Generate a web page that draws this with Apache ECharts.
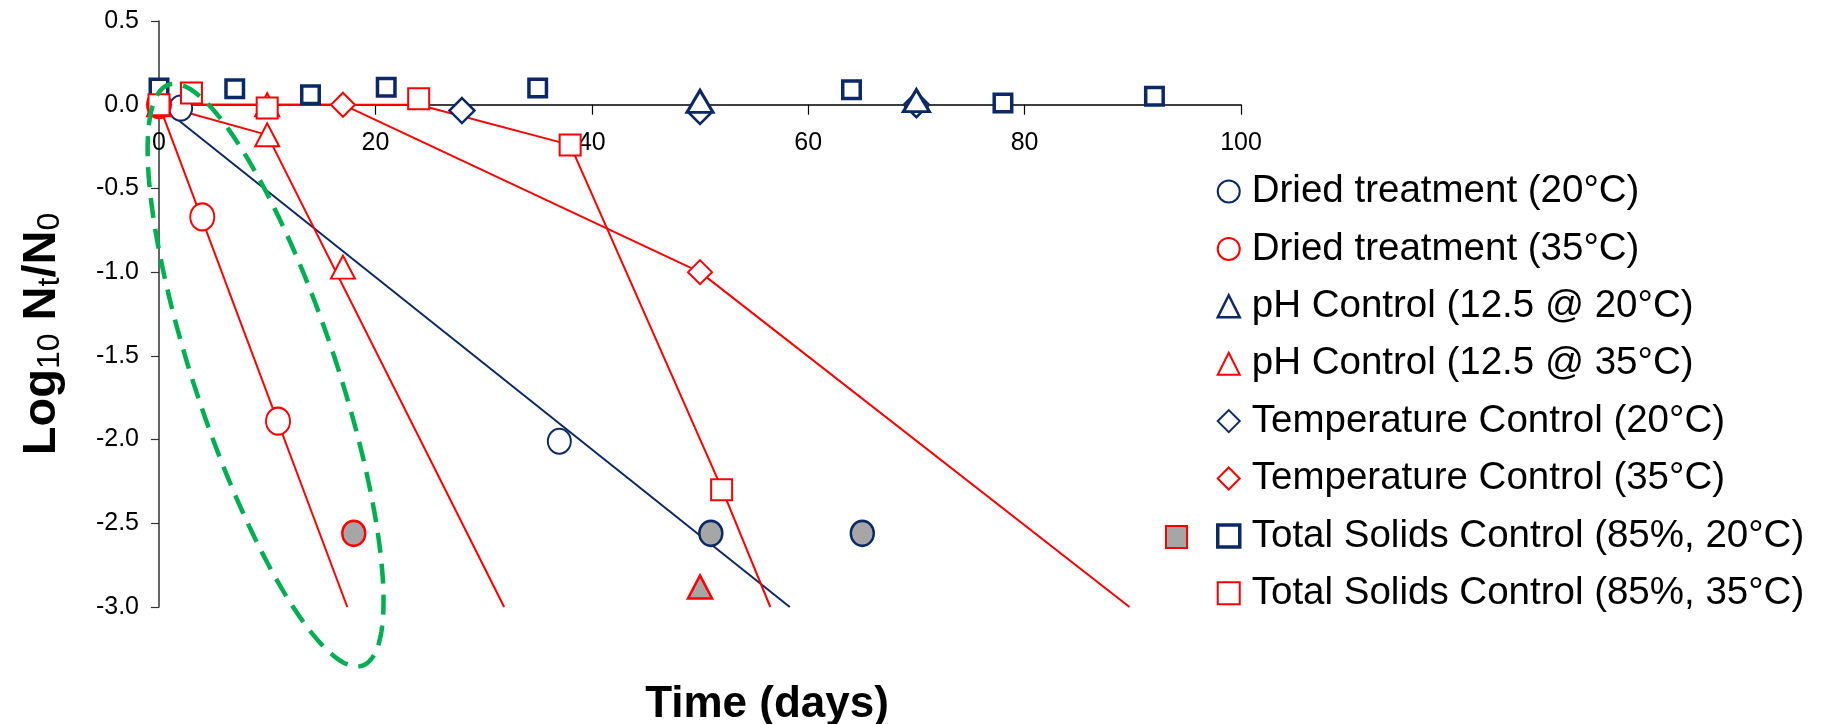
<!DOCTYPE html>
<html>
<head>
<meta charset="utf-8">
<script src="https://cdn.jsdelivr.net/npm/echarts@6.0.0/dist/echarts.min.js"></script>
<style>
  html, body { margin: 0; padding: 0; background: #ffffff; }
  #chart { width: 1823px; height: 724px; }
</style>
</head>
<body>
<div id="chart"></div>
<script>
// ---------------- data (days, log10 Nt/N0) ----------------
const seriesNames = [
  'Dried treatment (20°C)',
  'Dried treatment (35°C)',
  'pH Control (12.5 @ 20°C)',
  'pH Control (12.5 @ 35°C)',
  'Temperature Control (20°C)',
  'Temperature Control (35°C)',
  'Total Solids Control (85%, 20°C)',
  'Total Solids Control (85%, 35°C)'
];
const driedT20 = [[2, -0.02], [37, -2.01]];
const driedT20Bdl = [[51, -2.56], [65, -2.56]];
const driedT35 = [[0, 0], [4, -0.67], [11, -1.89]];
const driedT35Bdl = [[18, -2.56]];
const ph20 = [[50, 0.02], [70, 0.025]];
const ph35 = [[0, 0], [10, 0.0], [10, -0.18], [17, -0.97]];
const ph35Bdl = [[50, -2.88]];
const temp20 = [[28, -0.035], [50, -0.04], [70, 0.0]];
const temp35 = [[0, 0], [17, 0], [50, -1.0]];
const ts20 = [[0, 0.10], [7, 0.095], [14, 0.06], [21, 0.105], [35, 0.10], [64, 0.09], [78, 0.01], [92, 0.05]];
const ts35 = [[0, 0], [3, 0.07], [10, -0.02], [24, 0.035], [38, -0.24], [52, -2.3]];

// fitted inactivation lines
const driedT20Fit = [[0, 0], [58.3, -3.0]];
const driedT35Fit = [[0, 0], [17.4, -3.0]];
const ph35Fit = [[0, 0], [10, -0.18], [31.9, -3.0]];
const temp35Fit = [[0, 0], [17, 0], [50, -1.0], [89.7, -3.0]];
const ts35Fit = [[0, 0], [24, 0], [38, -0.24], [52, -2.29], [56.5, -3.0]];

// annotation: dashed ellipse tips (data coords)
const ellipseTips = [[0.9, 0.12], [18.8, -3.35]];

// axis ticks
const xTicks = { min: 0, max: 100, interval: 20 };
const yTicks = { min: -3.0, max: 0.5, interval: 0.5 };

// ---------------- styles ----------------
const NAVY = '#0b2868';
const RED = '#ff0000';
const GRAY = '#a6a6a6';
const GREEN = '#00b050';
const FONT = '"Liberation Sans", Arial, Helvetica, sans-serif';
const GRID = { left: 159, right: 582, top: 21, bottom: 117 };
const CH = 724;

function fitLine(data, color, width) {
  return {
    type: 'line', data: data, symbol: 'none', silent: true,
    lineStyle: { color: color, width: width }, z: 2, animation: false
  };
}
function pts(name, data, symbol, size, color, bw, fill, z) {
  return {
    type: 'scatter', name: name, data: data, symbol: symbol, symbolSize: size,
    itemStyle: { color: fill || '#ffffff', borderColor: color, borderWidth: bw, opacity: 1 },
    z: z || 3, animation: false
  };
}

// x axis drawn through y = 0: shift it up from the grid bottom
const gridH = CH - GRID.top - GRID.bottom;
const xAxisOffset = -gridH * (0 - yTicks.min) / (yTicks.max - yTicks.min);

const chart = echarts.init(document.getElementById('chart'), null, { renderer: 'canvas' });

const legendIcons = [
  { icon: 'circle', c: NAVY, w: 2 },
  { icon: 'circle', c: RED, w: 2 },
  { icon: 'triangle', c: NAVY, w: 2.5 },
  { icon: 'triangle', c: RED, w: 2 },
  { icon: 'diamond', c: NAVY, w: 2 },
  { icon: 'diamond', c: RED, w: 2 },
  { icon: 'rect', c: NAVY, w: 3.5 },
  { icon: 'rect', c: RED, w: 2 }
];

const option = {
  backgroundColor: '#ffffff',
  animation: false,
  grid: { left: GRID.left, right: GRID.right, top: GRID.top, bottom: GRID.bottom, containLabel: false, outerBoundsMode: 'none' },
  xAxis: {
    type: 'value', min: xTicks.min, max: xTicks.max, interval: xTicks.interval,
    position: 'bottom', offset: xAxisOffset,
    axisLine: { onZero: false, lineStyle: { color: '#000', width: 1.5 } },
    axisTick: { show: true, length: 10, lineStyle: { color: '#000', width: 1.2 } },
    axisLabel: { fontSize: 25, color: '#000', fontFamily: FONT, margin: 26 },
    splitLine: { show: false },
    name: 'Time (days)',
    nameLocation: 'middle',
    nameGap: 578,
    nameTextStyle: { fontSize: 44, fontWeight: 'bold', color: '#000', fontFamily: FONT, padding: [0, 0, 0, 134] }
  },
  yAxis: {
    type: 'value', min: yTicks.min, max: yTicks.max, interval: yTicks.interval,
    axisLine: { show: true, onZero: false, lineStyle: { color: '#333', width: 1.5 } },
    axisTick: { show: true, length: 8, lineStyle: { color: '#333', width: 1.2 } },
    axisLabel: { fontSize: 25, color: '#000', fontFamily: FONT, margin: 20,
                 formatter: function (v) { return v.toFixed(1); } },
    splitLine: { show: false },
    name: '{b|Log}{s|10}{b| N}{s|t}{b|/N}{s|0}',
    nameLocation: 'middle',
    nameRotate: 90,
    nameGap: 93,
    nameTextStyle: {
      padding: [0, 40, 0, 0],
      rich: {
        b: { fontSize: 47, fontWeight: 'bold', color: '#000', fontFamily: FONT, verticalAlign: 'bottom', lineHeight: 50 },
        s: { fontSize: 32, fontWeight: 'normal', color: '#000', fontFamily: FONT, verticalAlign: 'bottom', lineHeight: 24 }
      }
    }
  },
  legend: {
    orient: 'vertical',
    left: 1216, top: 172, padding: 0,
    itemWidth: 22, itemHeight: 22, itemGap: 18.4,
    selectedMode: false,
    formatter: '{n|{name}}',
    textStyle: {
      rich: { n: { fontSize: 38.5, color: '#000', fontFamily: FONT, lineHeight: 40, padding: [0, 0, 0, 7] } }
    },
    data: seriesNames.map(function (n, i) {
      return { name: n, icon: legendIcons[i].icon,
               itemStyle: { color: '#ffffff', borderColor: legendIcons[i].c, borderWidth: legendIcons[i].w } };
    })
  },
  series: [
    fitLine(driedT20Fit, NAVY, 2),
    fitLine(driedT35Fit, RED, 2),
    fitLine(ph35Fit, RED, 2),
    fitLine(temp35Fit, RED, 2),
    fitLine(ts35Fit, RED, 2),
    pts(seriesNames[4], temp20, 'diamond', 25, NAVY, 2.5, null, 3),
    pts(seriesNames[2], ph20, 'triangle', [26, 22], NAVY, 3, null, 4),
    pts(seriesNames[0], driedT20, 'circle', [23, 25], NAVY, 2, null, 4),
    pts('bdl-d20', driedT20Bdl, 'circle', [23, 25], NAVY, 2.5, GRAY, 4),
    pts(seriesNames[1], driedT35, 'circle', [24, 27], RED, 2, null, 4),
    pts('bdl-d35', driedT35Bdl, 'circle', [23, 25], RED, 2.5, GRAY, 4),
    pts(seriesNames[5], temp35, 'diamond', 24, RED, 2, null, 4),
    pts(seriesNames[3], ph35, 'triangle', [24, 23], RED, 2, null, 4),
    pts('bdl-ph35', ph35Bdl, 'triangle', [24, 23], RED, 2.5, GRAY, 4),
    pts(seriesNames[6], ts20, 'rect', 17.5, NAVY, 3.5, null, 5),
    pts(seriesNames[7], ts35, 'rect', 21, RED, 2, null, 6)
  ]
};

chart.setOption(option);

// annotation ellipse + legend key for below-detection points
function drawExtras() {
  const a = chart.convertToPixel({ gridIndex: 0 }, ellipseTips[0]);
  const b = chart.convertToPixel({ gridIndex: 0 }, ellipseTips[1]);
  const cx = (a[0] + b[0]) / 2, cy = (a[1] + b[1]) / 2;
  const dx = b[0] - a[0], dy = b[1] - a[1];
  const semiMajor = Math.sqrt(dx * dx + dy * dy) / 2;
  const semiMinor = 71;
  const ang = Math.atan2(dy, dx);
  const points = [];
  const N = 180;
  for (let i = 0; i <= N; i++) {
    const t = -Math.PI / 2 + (i / N) * Math.PI * 2;
    const ex = semiMajor * Math.cos(t), ey = semiMinor * Math.sin(t);
    points.push([cx + ex * Math.cos(ang) - ey * Math.sin(ang),
                 cy + ex * Math.sin(ang) + ey * Math.cos(ang)]);
  }
  chart.setOption({
    graphic: [
      { type: 'polyline', z: 100, silent: true,
        shape: { points: points },
        style: { stroke: GREEN, lineWidth: 4.5, lineDash: [20, 11], fill: null } },
      { type: 'rect', z: 100, silent: true,
        shape: { x: 1166, y: 526, width: 21, height: 22 },
        style: { fill: GRAY, stroke: RED, lineWidth: 2 } }
    ]
  });
}
drawExtras();
</script>
</body>
</html>
